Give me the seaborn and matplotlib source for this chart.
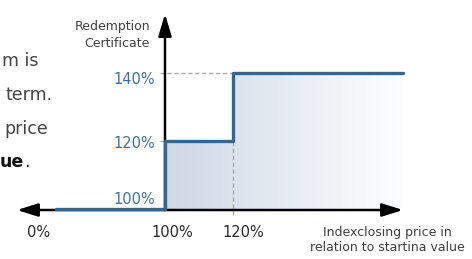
#IMPORTS
import numpy as np
import pandas as pd
import matplotlib.pyplot as plt
import seaborn as sns
from matplotlib.colors import LinearSegmentedColormap

#Payoff profile: index closing level vs redemption amount (both in % of start)
index_level = [13, 100, 120, 170]
redemption = [100, 120, 140, 140]
x_tick_values = [0, 100, 120]
x_tick_labels = ["0%", "100%", "120%"]
y_tick_values = [100, 120, 140]
y_tick_labels = ["100%", "120%", "140%"]
side_lines = ["m is", "term.", "price"]

sns.set_theme(style="white")
plt.rcParams["font.family"] = ["DejaVu Sans"]

#Piecewise x scale: the stretch from 0% to 100% is squeezed
PX = [-85, 40, 165, 1185]
VAL = [-100, 0, 100, 400]
def fwd(v):
    return np.interp(v, VAL, PX)
def inv(p):
    return np.interp(p, PX, VAL)

fig = plt.figure(figsize=(4.72, 2.59), dpi=100)
ax = fig.add_axes([0, 0, 1, 1])
ax.set_xscale("function", functions=(fwd, inv))
ax.axis("off")

#Gradient area under the payoff
fill = ax.fill_between(index_level, 100, redemption, step="post", facecolor="none", linewidth=0)
cmap = LinearSegmentedColormap.from_list("fade", ["#cfd8e6", "#ffffff"])
grad = ax.imshow(np.linspace(0, 1, 256).reshape(1, -1), cmap=cmap, extent=[100, 172, 99.7, 140],
                 aspect="auto", origin="lower", zorder=1)
grad.set_clip_path(fill.get_paths()[0], transform=ax.transData)

#Helper lines
dash = dict(color="#aaaaaa", lw=1, ls=(0, (3, 2)), zorder=2)
ax.plot([inv(160), 120], [140, 140], **dash)
ax.plot([inv(160), 100], [120, 120], **dash)
ax.plot([120, 120], [98.3, 120], **dash)

#Payoff line
df = pd.DataFrame({"index": index_level, "redemption": redemption})
sns.lineplot(data=df, x="index", y="redemption", drawstyle="steps-post", color="#34668f",
             linewidth=2.4, ax=ax, zorder=4)

#Axes with arrow heads
ax.annotate("", xy=(inv(17), 99.7), xytext=(inv(403), 99.7), zorder=3,
            arrowprops=dict(arrowstyle="<|-|>,head_length=1.05,head_width=0.33", color="black",
                            lw=1.8, shrinkA=0, shrinkB=0))
ax.annotate("", xy=(100, 100 + 195 / 3.4), xytext=(100, 99.7), zorder=3,
            arrowprops=dict(arrowstyle="-|>,head_length=1.1,head_width=0.33", color="black",
                            lw=1.8, shrinkA=0, shrinkB=0))

ax.set_xlim(inv(0), inv(472))
ax.set_ylim(100 - 50 / 3.4, 100 + 209 / 3.4)

#Tick labels
x_shift = [-1, 7, 10]
for v, lab, dx in zip(x_tick_values, x_tick_labels, x_shift):
    ax.annotate(lab, xy=(v, 99.7), xytext=(dx, -22), textcoords="offset pixels",
                ha="center", va="center", fontsize=10.5, color="#2a2a2a")
y_shift = [10, -3, -7]
for v, lab, dy in zip(y_tick_values, y_tick_labels, y_shift):
    ax.annotate(lab, xy=(100, v), xytext=(-10, dy), textcoords="offset pixels",
                ha="right", va="center", fontsize=10.5, color="#41709b")

fig.text(150 / 472, 1 - 35 / 259, "Redemption\nCertificate", ha="right", va="center",
         multialignment="right", fontsize=9, linespacing=1.45, color="#404040")
fig.text(387 / 472, 1 - 240 / 259, "Indexclosing price in\nrelation to startina value",
         ha="center", va="center", fontsize=9, linespacing=1.25, color="#404040")

#Text cut from the neighbouring panel
for i, line in enumerate(side_lines):
    right = [38, 53, 48][i]
    fig.text(right / 472, 1 - (61 + 34 * i) / 259, line, ha="right", va="center",
             fontsize=12.5, color="#444444")
fig.text(24 / 472, 1 - 162 / 259, "ue", ha="right", va="center", fontsize=12.5,
         fontweight="bold", color="#111111")
fig.text(24 / 472, 1 - 162 / 259, ".", ha="left", va="center", fontsize=12.5, color="#111111")

fig.savefig("out.png", dpi=100)
